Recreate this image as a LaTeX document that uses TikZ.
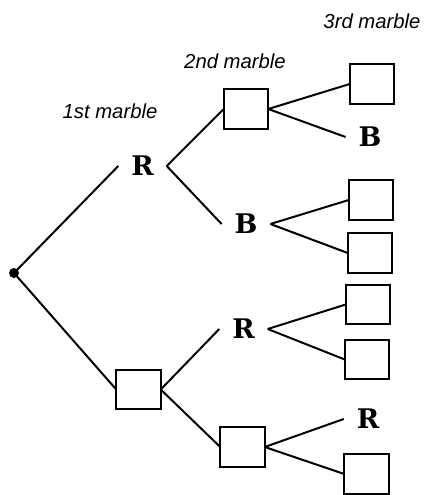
\documentclass[tikz,border=0pt]{standalone}
\usepackage{fontspec}
\newfontfamily\labfont{Liberation Sans}
\newfontfamily\letfont{DejaVu Serif}
\begin{document}
\begin{tikzpicture}[x=1pt,y=-1pt,
  conn/.style={line width=2pt},
  slot/.style={draw, line width=2.4pt, minimum width=44.5pt, minimum height=39.5pt, inner sep=0pt, outer sep=0pt},
  letter/.style={font=\letfont\bfseries\fontsize{27}{27}\selectfont, inner sep=0pt, outer sep=13pt},
  head/.style={font=\labfont\itshape\fontsize{20.3}{22}\selectfont, inner sep=0pt}]
\useasboundingbox (0,0) rectangle (423,495);
\node[circle, fill, inner sep=0pt, minimum size=10pt] (root) at (14,273) {};
% level 1
\node[letter] (R1) at (142.5,166) {R};
\node[slot] (b1) at (138.5,389.5) {};
% level 2
\node[slot] (a2) at (246,109) {};
\node[letter] (B2) at (246,224) {B};
\node[letter] (R2) at (243.5,329) {R};
\node[slot] (d2) at (242.5,447) {};
% level 3
\node[slot] (t1) at (372,84) {};
\node[letter] (B3) at (370,137) {B};
\node[slot] (t3) at (371,200) {};
\node[slot] (t4) at (370,253) {};
\node[slot] (t5) at (368,304.5) {};
\node[slot] (t6) at (367,359.5) {};
\node[letter] (R3) at (368,419) {R};
\node[slot] (t8) at (366.5,474) {};
% headings
\node[head] (h1) at (110,111) {1st marble};
\node[head] (h2) at (235,61) {2nd marble};
\node[head] (h3) at (372,21) {3rd marble};
% connectors
\draw[conn] (root.center) -- (R1.west);
\draw[conn] (root.center) -- (b1.west);
\draw[conn] (R1.east) -- (a2.west);
\draw[conn] (R1.east) -- (B2.west);
\draw[conn] (b1.east) -- (R2.west);
\draw[conn] (b1.east) -- (d2.west);
\draw[conn] (a2.east) -- (t1.west);
\draw[conn] (a2.east) -- (B3.west);
\draw[conn] (B2.east) -- (t3.west);
\draw[conn] (B2.east) -- (t4.west);
\draw[conn] (R2.east) -- (t5.west);
\draw[conn] (R2.east) -- (t6.west);
\draw[conn] (d2.east) -- (R3.west);
\draw[conn] (d2.east) -- (t8.west);
\end{tikzpicture}
\end{document}
